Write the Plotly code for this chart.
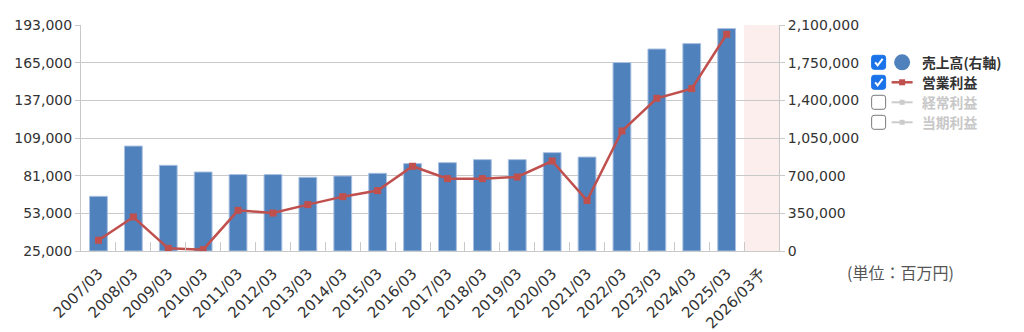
import plotly.graph_objects as go

categories = ["2007/03", "2008/03", "2009/03", "2010/03", "2011/03", "2012/03", "2013/03",
              "2014/03", "2015/03", "2016/03", "2017/03", "2018/03", "2019/03", "2020/03",
              "2021/03", "2022/03", "2023/03", "2024/03", "2025/03", "2026/03予"]
sales = [508000, 975000, 796000, 734000, 710000, 710000, 685000, 697000, 722000, 812000,
         821000, 849000, 849000, 914000, 873000, 1751000, 1877000, 1927000, 2067000, None]
op_income = [33000, 50300, 27000, 26000, 55200, 53200, 59500, 65400, 69900, 88000,
             78800, 78800, 80000, 91900, 62500, 114200, 138500, 145700, 186100, None]
left_ticks = [25000, 53000, 81000, 109000, 137000, 165000, 193000]
right_ticks = [0, 350000, 700000, 1050000, 1400000, 1750000, 2100000]

W, H = 1024, 332
L, R, T, B = 80.8, 779.3, 24.7, 250.7
FONT = "DejaVu Sans"
CJK = "Noto Sans CJK JP"
GRID = "#c9c9c9"

def px(x):
    return (x - L) / (R - L)

def py(y):
    return (B - y) / (B - T)

fig = go.Figure()
fig.add_trace(go.Bar(x=categories, y=sales, yaxis="y", width=0.51,
                     marker=dict(color="#4f81bd", line=dict(color="#a9c0e0", width=1)),
                     showlegend=False))
fig.add_trace(go.Scatter(x=categories, y=op_income, yaxis="y2", mode="lines+markers",
                         line=dict(color="#c0504d", width=2.5),
                         marker=dict(symbol="square", size=7, color="#c0504d"),
                         showlegend=False))

shapes = []
# forecast band
n = len(categories)
shapes.append(dict(type="rect", xref="x", yref="paper", x0=n - 1.5, x1=n - 0.5, y0=0, y1=1,
                   fillcolor="#fdeeee", line=dict(width=0), layer="below"))

# legend
rows = [62, 82, 102, 122]
labels = ["売上高(右軸)", "営業利益", "経常利益", "当期利益"]
checked = [True, True, False, False]
annotations = []

def rounded_rect(x0, y0, x1, y1, r):
    X0, X1 = px(x0), px(x1)
    return (f"M {px(x0 + r)},{py(y0)} L {px(x1 - r)},{py(y0)} Q {X1},{py(y0)} {X1},{py(y0 + r)} "
            f"L {X1},{py(y1 - r)} Q {X1},{py(y1)} {px(x1 - r)},{py(y1)} L {px(x0 + r)},{py(y1)} "
            f"Q {X0},{py(y1)} {X0},{py(y1 - r)} L {X0},{py(y0 + r)} Q {X0},{py(y0)} {px(x0 + r)},{py(y0)} Z")

for i, yc in enumerate(rows):
    x0, x1 = 872, 886
    y0, y1 = yc - 7, yc + 7
    if checked[i]:
        shapes.append(dict(type="path", xref="paper", yref="paper",
                           path=rounded_rect(x0, y0, x1, y1, 2.5),
                           fillcolor="#1a73e8", line=dict(color="#1a73e8", width=1)))
        shapes.append(dict(type="path", xref="paper", yref="paper",
                           path=f"M {px(875.5)},{py(yc)} L {px(878)},{py(yc + 3)} L {px(883)},{py(yc - 3.5)}",
                           line=dict(color="white", width=2)))
    else:
        shapes.append(dict(type="path", xref="paper", yref="paper",
                           path=rounded_rect(x0, y0, x1, y1, 2.5),
                           fillcolor="white", line=dict(color="#7a7a7a", width=1)))
    if i == 0:
        shapes.append(dict(type="circle", xref="paper", yref="paper",
                           x0=px(894.5), x1=px(910.5), y0=py(yc - 8), y1=py(yc + 8),
                           fillcolor="#4f81bd", line=dict(width=0)))
    else:
        col = "#c0504d" if i == 1 else "#cccccc"
        shapes.append(dict(type="line", xref="paper", yref="paper",
                           x0=px(892), x1=px(913), y0=py(yc), y1=py(yc),
                           line=dict(color=col, width=2.5 if i == 1 else 2)))
        s = 3 if i == 1 else 2.5
        shapes.append(dict(type="rect", xref="paper", yref="paper",
                           x0=px(902.5 - s), x1=px(902.5 + s), y0=py(yc - s), y1=py(yc + s),
                           fillcolor=col, line=dict(width=0)))
    annotations.append(dict(xref="paper", yref="paper", x=px(920), y=py(yc), xanchor="left",
                            yanchor="middle", showarrow=False, text=f"<b>{labels[i]}</b>",
                            font=dict(family=CJK, size=13.8,
                                      color="#333333" if checked[i] else "#c8c8c8")))

annotations.append(dict(xref="paper", yref="paper", x=px(845), y=py(272), xanchor="left",
                        yanchor="middle", showarrow=False, text="(単位：百万円)",
                        font=dict(family=CJK, size=16, color="#555555")))

fig.update_layout(
    width=W, height=H,
    margin=dict(l=L, r=W - R, t=T, b=H - B, autoexpand=False),
    paper_bgcolor="white", plot_bgcolor="white",
    bargap=0.49,
    font=dict(family=FONT, size=14, color="#333333"),
    xaxis=dict(type="category", tickangle=-45, showgrid=False, showline=True,
               linecolor=GRID, linewidth=1, ticks="inside", tickson="boundaries",
               ticklen=9, tickcolor=GRID, tickwidth=1, ticklabelstandoff=7,
               tickfont=dict(family=FONT, size=15, color="#333333"),
               range=[-0.5, n - 0.5], mirror=False),
    yaxis=dict(side="right", range=[0, 2100000], tickvals=right_ticks,
               ticktext=[f"{v:,}" for v in right_ticks], showgrid=True, gridcolor=GRID,
               gridwidth=1, showline=True, linecolor=GRID, ticks="outside", ticklen=5,
               tickcolor=GRID, tickfont=dict(family=FONT, size=14, color="#333333"),
               zeroline=False),
    yaxis2=dict(side="left", overlaying="y", range=[25000, 193000], tickvals=left_ticks,
                ticktext=[f"{v:,}" for v in left_ticks], showgrid=False, showline=True,
                linecolor=GRID, ticks="outside", ticklen=5, tickcolor=GRID,
                tickfont=dict(family=FONT, size=14, color="#333333"), zeroline=False),
    shapes=shapes,
    annotations=annotations,
)

fig.write_html("out.html")
